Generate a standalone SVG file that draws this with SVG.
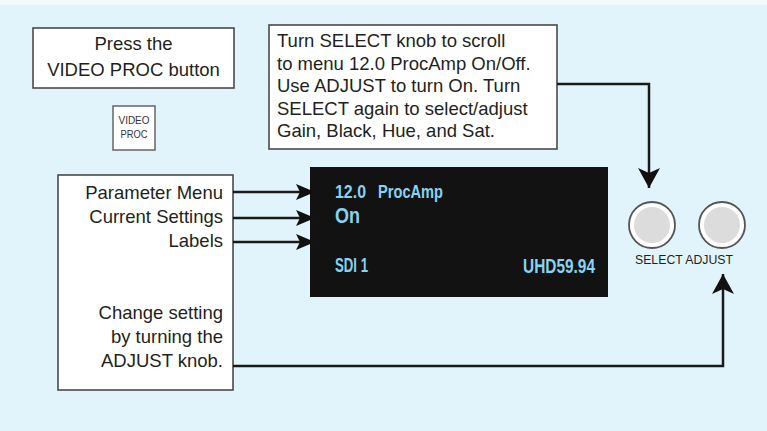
<svg xmlns="http://www.w3.org/2000/svg" width="767" height="431" viewBox="0 0 767 431">
  <style>
    .box { fill: #ffffff; stroke: #4a4a4a; stroke-width: 1.6; }
    .t { font-family: "Liberation Sans", Arial, sans-serif; font-size: 18.5px; fill: #231f20; }
    .scr { font-family: "Liberation Sans", Arial, sans-serif; font-weight: bold; fill: #86d3f2; }
    .wire { fill: none; stroke: #1a1a1a; stroke-width: 2.5; }
    .knob-out { fill: #ffffff; stroke: #555555; stroke-width: 1.8; }
    .knob-in { fill: #dcdcdc; }
  </style>
  <defs>
    <marker id="headBig" viewBox="0 0 20 22" refX="20" refY="11" markerWidth="20" markerHeight="22" markerUnits="userSpaceOnUse" orient="auto">
      <path d="M0,0 L20,11 L0,22 L5,11 z" fill="#111111"/>
    </marker>
    <marker id="headSmall" viewBox="0 0 19 16" refX="19" refY="8" markerWidth="19" markerHeight="16" markerUnits="userSpaceOnUse" orient="auto">
      <path d="M0,0 L19,8 L0,16 L4,8 z" fill="#111111"/>
    </marker>
  </defs>

  <rect x="0" y="0" width="767" height="431" fill="#e2f4fb"/>
  <rect x="0" y="0" width="767" height="5" fill="#f1fafd"/>

  <g id="press-box">
    <rect class="box" x="33" y="28" width="201" height="60"/>
    <text class="t" x="133.5" y="50" text-anchor="middle">Press the</text>
    <text class="t" x="133.5" y="76" text-anchor="middle">VIDEO PROC button</text>
  </g>

  <g id="video-proc-button">
    <rect x="113" y="106" width="42" height="44" fill="#ffffff" stroke="#666666" stroke-width="1.5"/>
    <text x="134" y="124" text-anchor="middle" font-family="Liberation Sans, Arial, sans-serif" font-size="10" fill="#333333" textLength="31" lengthAdjust="spacingAndGlyphs">VIDEO</text>
    <text x="134" y="138" text-anchor="middle" font-family="Liberation Sans, Arial, sans-serif" font-size="10" fill="#333333" textLength="27" lengthAdjust="spacingAndGlyphs">PROC</text>
  </g>

  <g id="instructions-box">
    <rect class="box" x="269" y="25" width="288" height="124"/>
    <text class="t" x="277" y="47">Turn SELECT knob to scroll</text>
    <text class="t" x="277" y="69.5">to menu 12.0 ProcAmp On/Off.</text>
    <text class="t" x="277" y="92">Use ADJUST to turn On. Turn</text>
    <text class="t" x="277" y="114.5">SELECT again to select/adjust</text>
    <text class="t" x="277" y="137">Gain, Black, Hue, and Sat.</text>
  </g>

  <g id="legend-box">
    <rect class="box" x="58" y="175" width="175" height="215"/>
    <text class="t" x="223" y="199" text-anchor="end">Parameter Menu</text>
    <text class="t" x="223" y="223" text-anchor="end">Current Settings</text>
    <text class="t" x="223" y="247" text-anchor="end">Labels</text>
    <text class="t" x="223" y="319" text-anchor="end">Change setting</text>
    <text class="t" x="223" y="343" text-anchor="end">by turning the</text>
    <text class="t" x="223" y="367" text-anchor="end">ADJUST knob.</text>
  </g>

  <g id="display">
    <rect x="310" y="167" width="298" height="130" fill="#121212"/>
    <text class="scr" x="335" y="198" font-size="18" textLength="31" lengthAdjust="spacingAndGlyphs">12.0</text>
    <text class="scr" x="378" y="198" font-size="18" textLength="65" lengthAdjust="spacingAndGlyphs">ProcAmp</text>
    <text class="scr" x="335" y="223" font-size="22" textLength="25" lengthAdjust="spacingAndGlyphs">On</text>
    <text class="scr" x="335" y="272" font-size="21" textLength="33" lengthAdjust="spacingAndGlyphs">SDI 1</text>
    <text class="scr" x="523" y="273" font-size="21" textLength="72" lengthAdjust="spacingAndGlyphs">UHD59.94</text>
  </g>

  <g id="select-knob">
    <circle class="knob-out" cx="652" cy="225" r="23"/>
    <circle class="knob-in" cx="652" cy="225" r="18"/>
  </g>

  <g id="adjust-knob">
    <circle class="knob-out" cx="722" cy="225" r="23"/>
    <circle class="knob-in" cx="722" cy="225" r="18"/>
  </g>

  <g id="knob-labels">
    <text x="635" y="264" font-family="Liberation Sans, Arial, sans-serif" font-size="13.5" fill="#231f20" textLength="98" lengthAdjust="spacingAndGlyphs">SELECT ADJUST</text>
  </g>

  <g id="connectors">
    <path class="wire" d="M557,84 H649 V188" marker-end="url(#headBig)"/>
    <path class="wire" d="M233,366 H723 V274" marker-end="url(#headBig)"/>
    <path class="wire" d="M233,192 H315" marker-end="url(#headSmall)"/>
    <path class="wire" d="M233,218 H315" marker-end="url(#headSmall)"/>
    <path class="wire" d="M233,242 H315" marker-end="url(#headSmall)"/>
  </g>
</svg>
